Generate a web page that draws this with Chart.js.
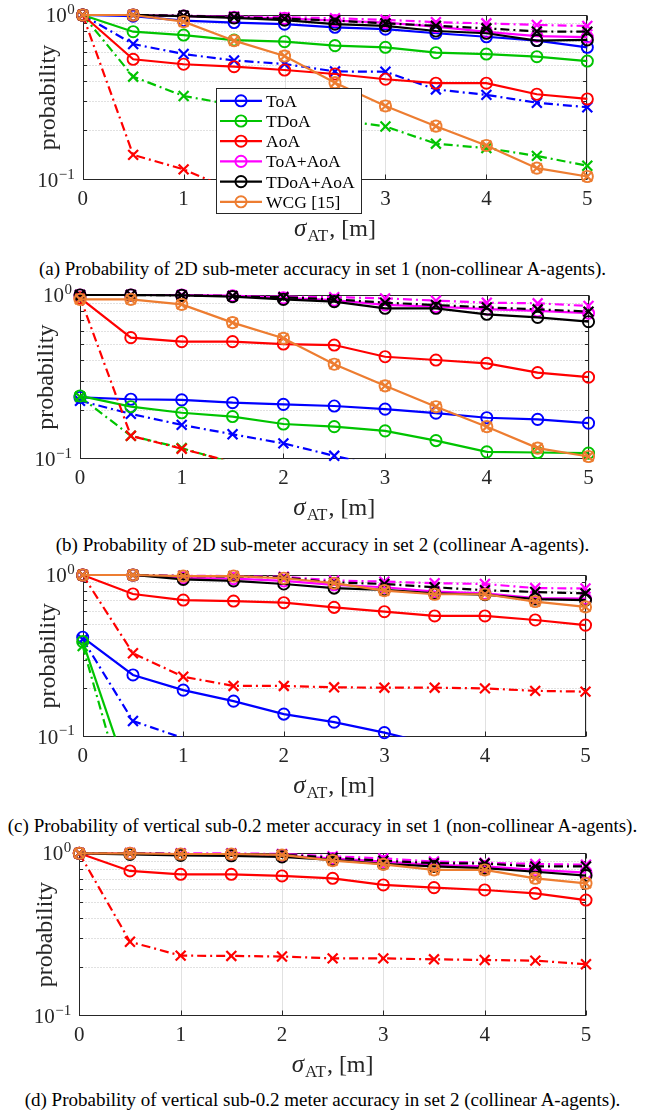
<!DOCTYPE html>
<html><head><meta charset="utf-8">
<script src="https://cdn.jsdelivr.net/npm/chart.js@4.4.1/dist/chart.umd.min.js"></script>
<style>
html,body{margin:0;padding:0;background:#fff;}
body{position:relative;width:645px;height:1115px;overflow:hidden;font-family:"Liberation Serif",serif;}
canvas{position:absolute;left:0;}
.cap{position:absolute;left:0;width:645px;text-align:center;font-size:19px;line-height:20px;color:#000;white-space:nowrap;}
</style></head><body>
<canvas id="ca" width="645" height="250" style="top:0px"></canvas>
<canvas id="cb" width="645" height="250" style="top:280px"></canvas>
<canvas id="cc" width="645" height="247" style="top:560px"></canvas>
<canvas id="cd" width="645" height="248" style="top:838px"></canvas>
<div class="cap" id="capa" style="top:259px"></div>
<div class="cap" id="capb" style="top:535px"></div>
<div class="cap" id="capc" style="top:816px"></div>
<div class="cap" id="capd" style="top:1090px"></div>
<script>
// ---------------- data ----------------
const sigmaAT = [0, 0.5, 1, 1.5, 2, 2.5, 3, 3.5, 4, 4.5, 5];
const xTickValues = [0, 1, 2, 3, 4, 5];
const yMajorTicks = [0.1, 1];
const yMinorTicks = [0.2, 0.3, 0.4, 0.5, 0.6, 0.7, 0.8, 0.9];
const methodNames = ['ToA', 'TDoA', 'AoA', 'ToA+AoA', 'TDoA+AoA', 'WCG [15]'];
const xAxisLabel = ['\u03c3', 'AT', ', [m]'];
const yAxisLabel = 'probability';
const captionTexts = [
  '(a) Probability of 2D sub-meter accuracy in set 1 (non-collinear A-agents).',
  '(b) Probability of 2D sub-meter accuracy in set 2 (collinear A-agents).',
  '(c) Probability of vertical sub-0.2 meter accuracy in set 1 (non-collinear A-agents).',
  '(d) Probability of vertical sub-0.2 meter accuracy in set 2 (collinear A-agents).'
];

// (a) 2D, set 1
const a_ToA       = [1, 0.985, 0.925, 0.9, 0.88, 0.842, 0.82, 0.775, 0.738, 0.70, 0.637];
const a_ToA_x     = [1, 0.667, 0.58, 0.53, 0.505, 0.455, 0.453, 0.354, 0.328, 0.294, 0.276];
const a_TDoA      = [1, 0.792, 0.756, 0.705, 0.689, 0.652, 0.637, 0.591, 0.58, 0.559, 0.526];
const a_TDoA_x    = [1, 0.423, 0.323, 0.285, 0.26, 0.233, 0.211, 0.166, 0.156, 0.14, 0.122];
const a_AoA       = [1, 0.539, 0.503, 0.486, 0.464, 0.439, 0.408, 0.386, 0.386, 0.331, 0.31];
const a_AoA_x     = [1, 0.142, 0.116, 0.086, null, null, null, null, null, null, null];
const a_ToAAoA    = [1, 1, 0.985, 0.97, 0.955, 0.925, 0.9, 0.85, 0.79, 0.745, 0.735];
const a_ToAAoA_x  = [1, 1, 0.99, 0.98, 0.97, 0.955, 0.935, 0.905, 0.89, 0.87, 0.858];
const a_TDoAAoA   = [1, 1, 0.985, 0.96, 0.93, 0.88, 0.86, 0.80, 0.775, 0.70, 0.706];
const a_TDoAAoA_x = [1, 1, 0.99, 0.97, 0.95, 0.925, 0.89, 0.86, 0.83, 0.795, 0.792];
const a_WCG       = [1, 1, 0.911, 0.699, 0.564, 0.389, 0.281, 0.212, 0.162, 0.118, 0.105];

// (b) 2D, set 2
const b_ToA       = [0.238, 0.232, 0.23, 0.221, 0.216, 0.211, 0.202, 0.191, 0.179, 0.175, 0.166];
const b_ToA_x     = [0.227, 0.189, 0.162, 0.142, 0.125, 0.105, 0.089, null, null, null, null];
const b_TDoA      = [0.243, 0.209, 0.192, 0.182, 0.164, 0.158, 0.149, 0.13, 0.111, 0.11, 0.109];
const b_TDoA_x    = [0.24, 0.139, 0.117, 0.095, null, null, null, null, null, null, null];
const b_AoA       = [0.96, 0.55, 0.52, 0.52, 0.503, 0.496, 0.421, 0.402, 0.384, 0.337, 0.316];
const b_AoA_x     = [0.97, 0.139, 0.116, 0.096, null, null, null, null, null, null, null];
const b_ToAAoA    = [1, 1, 1, 0.99, 0.96, 0.93, 0.87, 0.85, 0.82, 0.80, 0.775];
const b_ToAAoA_x  = [1, 1, 1, 0.986, 0.977, 0.97, 0.954, 0.924, 0.898, 0.89, 0.857];
const b_TDoAAoA   = [1, 1, 0.995, 0.977, 0.941, 0.911, 0.83, 0.83, 0.763, 0.731, 0.688];
const b_TDoAAoA_x = [1, 1, 0.995, 0.985, 0.968, 0.941, 0.898, 0.869, 0.841, 0.818, 0.792];
const b_WCG       = [0.941, 0.941, 0.877, 0.679, 0.545, 0.379, 0.28, 0.209, 0.158, 0.117, 0.104];

// (c) vertical, set 1
const c_ToA       = [0.412, 0.241, 0.194, 0.166, 0.138, 0.123, 0.106, 0.089, null, null, null];
const c_ToA_x     = [0.4, 0.125, 0.098, null, null, null, null, null, null, null, null];
const c_TDoA      = [0.387, 0.047, null, null, null, null, null, null, null, null, null];
const c_TDoA_x    = [0.364, 0.029, null, null, null, null, null, null, null, null, null];
const c_AoA       = [1, 0.763, 0.70, 0.69, 0.674, 0.631, 0.593, 0.558, 0.558, 0.527, 0.49];
const c_AoA_x     = [1, 0.328, 0.235, 0.206, 0.206, 0.202, 0.201, 0.201, 0.199, 0.192, 0.19];
const c_ToAAoA    = [1, 1, 0.96, 0.95, 0.92, 0.87, 0.84, 0.79, 0.77, 0.72, 0.715];
const c_ToAAoA_x  = [1, 1, 0.99, 0.985, 0.975, 0.925, 0.91, 0.89, 0.88, 0.83, 0.825];
const c_TDoAAoA   = [1, 1, 0.94, 0.92, 0.88, 0.83, 0.81, 0.77, 0.755, 0.71, 0.70];
const c_TDoAAoA_x = [1, 1, 0.985, 0.98, 0.965, 0.9, 0.88, 0.84, 0.805, 0.785, 0.77];
const c_WCG       = [1, 1, 0.985, 0.985, 0.955, 0.89, 0.80, 0.76, 0.76, 0.685, 0.635];

// (d) vertical, set 2
const d_AoA       = [1, 0.779, 0.743, 0.743, 0.726, 0.702, 0.639, 0.615, 0.595, 0.567, 0.516];
const d_AoA_x     = [1, 0.286, 0.235, 0.234, 0.232, 0.226, 0.226, 0.223, 0.221, 0.219, 0.208];
const d_ToAAoA    = [1, 1, 0.985, 0.98, 0.965, 0.93, 0.89, 0.85, 0.83, 0.79, 0.76];
const d_ToAAoA_x  = [1, 1, 1, 1, 0.99, 0.96, 0.93, 0.89, 0.875, 0.86, 0.85];
const d_TDoAAoA   = [1, 0.985, 0.97, 0.965, 0.95, 0.91, 0.86, 0.83, 0.81, 0.77, 0.73];
const d_TDoAAoA_x = [1, 1, 0.99, 0.99, 0.98, 0.94, 0.9, 0.87, 0.865, 0.83, 0.83];
const d_WCG       = [1, 1, 0.99, 0.99, 0.977, 0.901, 0.856, 0.79, 0.79, 0.702, 0.654];

// ---------------- styles / layout ----------------
const methodColors = ['#0000ff', '#00c400', '#ff0000', '#ff00ff', '#000000', '#ed7d31'];
const dashDot = [9, 4, 2, 4];
const FONT = '"Liberation Serif", "Times New Roman", serif';
const AXIS_COLOR = '#262626';
const legendBox = {left: 216.5, top: 88.5, right: 361.5, bottom: 213.5, firstRow: 100.8, rowStep: 20.2, lineX0: 220, lineX1: 262, textX: 266};

const panels = [
  {id: 'ca', top: 0, height: 250, L: 82.7, R: 587.3, T: 15, B: 180, legend: true, series: [
    ['ToA','o',a_ToA],['ToA','x',a_ToA_x],['TDoA','o',a_TDoA],['TDoA','x',a_TDoA_x],
    ['AoA','o',a_AoA],['AoA','x',a_AoA_x],['ToA+AoA','o',a_ToAAoA],['ToA+AoA','x',a_ToAAoA_x],
    ['TDoA+AoA','o',a_TDoAAoA],['TDoA+AoA','x',a_TDoAAoA_x],['WCG [15]','ox',a_WCG]]},
  {id: 'cb', top: 280, height: 250, L: 80, R: 588.5, T: 295, B: 459.3, legend: false, series: [
    ['ToA','o',b_ToA],['ToA','x',b_ToA_x],['TDoA','o',b_TDoA],['TDoA','x',b_TDoA_x],
    ['AoA','o',b_AoA],['AoA','x',b_AoA_x],['ToA+AoA','o',b_ToAAoA],['ToA+AoA','x',b_ToAAoA_x],
    ['TDoA+AoA','o',b_TDoAAoA],['TDoA+AoA','x',b_TDoAAoA_x],['WCG [15]','ox',b_WCG]]},
  {id: 'cc', top: 560, height: 247, L: 82.7, R: 585.5, T: 575, B: 736.7, legend: false, series: [
    ['ToA','o',c_ToA],['ToA','x',c_ToA_x],['TDoA','o',c_TDoA],['TDoA','x',c_TDoA_x],
    ['AoA','o',c_AoA],['AoA','x',c_AoA_x],['ToA+AoA','o',c_ToAAoA],['ToA+AoA','x',c_ToAAoA_x],
    ['TDoA+AoA','o',c_TDoAAoA],['TDoA+AoA','x',c_TDoAAoA_x],['WCG [15]','ox',c_WCG]]},
  {id: 'cd', top: 838, height: 248, L: 79.3, R: 586, T: 853.3, B: 1016, legend: false, series: [
    ['AoA','o',d_AoA],['AoA','x',d_AoA_x],['ToA+AoA','o',d_ToAAoA],['ToA+AoA','x',d_ToAAoA_x],
    ['TDoA+AoA','o',d_TDoAAoA],['TDoA+AoA','x',d_TDoAAoA_x],['WCG [15]','ox',d_WCG]]}
];

function buildDatasets(series) {
  const ds = [];
  let k = 0;
  series.forEach(([m, kind, vals]) => {
    const color = methodColors[methodNames.indexOf(m)];
    const pts = vals.map((v, i) => ({x: sigmaAT[i], y: v}));
    ds.push({data: pts, borderColor: color, borderWidth: 2.2, borderDash: kind === 'x' ? dashDot : [],
      pointRadius: 0, tension: 0, fill: false, spanGaps: false,
      clip: {left: false, top: false, right: false, bottom: 0}, order: -(k++)});
    const styles = kind === 'ox' ? ['circle', 'crossRot'] : [kind === 'o' ? 'circle' : 'crossRot'];
    styles.forEach(st => ds.push({data: pts, showLine: false, borderColor: color,
      pointStyle: st, pointRadius: vals.map(v => (v != null && v >= 0.0995) ? (st === 'circle' ? 5.6 : 7) : 0),
      pointBorderWidth: st === 'circle' ? 1.9 : 2.2, pointBorderColor: color,
      pointBackgroundColor: 'rgba(0,0,0,0)', clip: false, order: -(k++)}));
  });
  return ds;
}

function decor(p) {
  return {
    id: 'decor_' + p.id,
    beforeDatasetsDraw(chart) {
      const ctx = chart.ctx, a = chart.chartArea, xs = chart.scales.x, ys = chart.scales.y;
      const l = Math.round(a.left) + 0.5, r = Math.round(a.right) - 0.5, t = Math.round(a.top) + 0.5, b = Math.round(a.bottom) - 0.5;
      ctx.save();
      ctx.lineWidth = 1;
      ctx.strokeStyle = '#e1e1e1';
      xTickValues.forEach(v => { const x = Math.round(xs.getPixelForValue(v)) + 0.5;
        ctx.beginPath(); ctx.moveTo(x, t); ctx.lineTo(x, b); ctx.stroke(); });
      ctx.strokeStyle = '#c2c2c2';
      ctx.setLineDash([1, 2]);
      yMinorTicks.forEach(v => { const y = Math.round(ys.getPixelForValue(v)) + 0.5;
        ctx.beginPath(); ctx.moveTo(l, y); ctx.lineTo(r, y); ctx.stroke(); });
      ctx.setLineDash([]);
      ctx.strokeStyle = AXIS_COLOR;
      ctx.strokeRect(l, t, r - l, b - t);
      ctx.beginPath();
      xTickValues.forEach(v => { const x = Math.round(xs.getPixelForValue(v)) + 0.5;
        ctx.moveTo(x, b); ctx.lineTo(x, b - 5); ctx.moveTo(x, t); ctx.lineTo(x, t + 5); });
      yMinorTicks.forEach(v => { const y = Math.round(ys.getPixelForValue(v)) + 0.5;
        ctx.moveTo(l, y); ctx.lineTo(l + 3.5, y); ctx.moveTo(r, y); ctx.lineTo(r - 3.5, y); });
      ctx.stroke();
      ctx.restore();
    },
    afterDraw(chart) {
      const ctx = chart.ctx, a = chart.chartArea, xs = chart.scales.x, ys = chart.scales.y;
      ctx.save();
      ctx.fillStyle = AXIS_COLOR;
      // x tick labels
      ctx.font = '21px ' + FONT; ctx.textAlign = 'center'; ctx.textBaseline = 'alphabetic';
      xTickValues.forEach(v => ctx.fillText(String(v), xs.getPixelForValue(v), a.bottom + 25));
      // y tick labels 10^k
      yMajorTicks.forEach(v => {
        const e = Math.round(Math.log10(v));
        const es = e < 0 ? '\u2212' + (-e) : String(e);
        const y = ys.getPixelForValue(v);
        ctx.textAlign = 'left';
        ctx.font = '15px ' + FONT;
        const we = ctx.measureText(es).width;
        const ex = a.left - 8 - we;
        ctx.fillText(es, ex, y - 1.5);
        ctx.font = '21px ' + FONT;
        ctx.textAlign = 'right';
        ctx.fillText('10', ex - 0.5, y + 7);
      });
      // y label
      ctx.save();
      ctx.translate(a.left - 27.5, (a.top + a.bottom) / 2);
      ctx.rotate(-Math.PI / 2);
      ctx.textAlign = 'center'; ctx.font = '24px ' + FONT;
      ctx.fillText(yAxisLabel, 0, 0);
      ctx.restore();
      // x label: sigma_AT, [m]
      const f1 = 'italic 25px ' + FONT, f2 = '17px ' + FONT, f3 = '24px ' + FONT;
      ctx.textAlign = 'left';
      ctx.font = f1; const w1 = ctx.measureText(xAxisLabel[0]).width;
      ctx.font = f2; const w2 = ctx.measureText(xAxisLabel[1]).width;
      ctx.font = f3; const w3 = ctx.measureText(xAxisLabel[2]).width;
      const cx = (a.left + a.right) / 2, base = a.bottom + 56;
      let x = cx - (w1 + w2 + w3 + 2) / 2;
      ctx.font = f1; ctx.fillText(xAxisLabel[0], x, base); x += w1 + 1;
      ctx.font = f2; ctx.fillText(xAxisLabel[1], x, base + 5); x += w2 + 1;
      ctx.font = f3; ctx.fillText(xAxisLabel[2], x, base);
      // legend
      if (p.legend) {
        const g = legendBox;
        ctx.fillStyle = '#ffffff';
        ctx.fillRect(g.left, g.top, g.right - g.left, g.bottom - g.top);
        ctx.strokeStyle = AXIS_COLOR; ctx.lineWidth = 1;
        ctx.strokeRect(g.left, g.top, g.right - g.left, g.bottom - g.top);
        methodNames.forEach((name, i) => {
          const y = g.firstRow + i * g.rowStep;
          ctx.strokeStyle = methodColors[i];
          ctx.lineWidth = 2.2;
          ctx.beginPath(); ctx.moveTo(g.lineX0, y); ctx.lineTo(g.lineX1, y); ctx.stroke();
          ctx.lineWidth = 1.9;
          ctx.beginPath(); ctx.arc((g.lineX0 + g.lineX1) / 2, y, 5.6, 0, Math.PI * 2); ctx.stroke();
          ctx.fillStyle = '#000';
          ctx.font = '17.5px ' + FONT; ctx.textAlign = 'left';
          ctx.fillText(name, g.textX, y + 6);
        });
      }
      ctx.restore();
    }
  };
}

panels.forEach(p => {
  const canvas = document.getElementById(p.id);
  new Chart(canvas, {
    type: 'line',
    data: {datasets: buildDatasets(p.series)},
    options: {
      responsive: false, animation: false, devicePixelRatio: 1, events: [],
      layout: {padding: {left: p.L, right: 645 - p.R, top: p.T - p.top, bottom: p.height - (p.B - p.top)}},
      scales: {
        x: {type: 'linear', min: 0, max: 5, display: false},
        y: {type: 'logarithmic', min: 0.1, max: 1, display: false}
      },
      plugins: {legend: {display: false}, tooltip: {enabled: false}}
    },
    plugins: [decor(p)]
  });
});
['capa', 'capb', 'capc', 'capd'].forEach((id, i) => { document.getElementById(id).textContent = captionTexts[i]; });
</script>
</body></html>
